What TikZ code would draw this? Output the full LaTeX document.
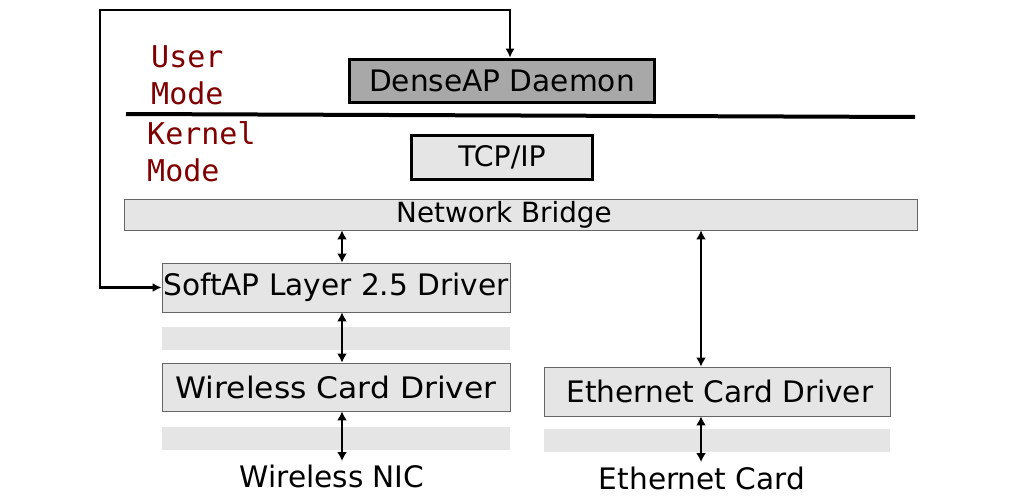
\documentclass[tikz,border=0pt]{standalone}
\usepackage{fontspec}
\setmainfont{DejaVu Sans}
\newfontfamily\labelfont{DejaVu Sans Mono}
\usetikzlibrary{arrows.meta}
\definecolor{boxgray}{gray}{0.90}
\definecolor{darkgray}{gray}{0.66}
\definecolor{modered}{HTML}{7F0000}
\begin{document}
\begin{tikzpicture}[x=1pt,y=-1pt,
  layerbox/.style={draw=black!60, line width=0.8pt, fill=boxgray, inner sep=0pt, font=\fontsize{29.6}{32}\selectfont},
  thickbox/.style={draw=black, line width=3.5pt, inner sep=0pt, font=\fontsize{29.6}{32}\selectfont},
  band/.style={fill=boxgray, draw=none, inner sep=0pt, minimum height=23pt},
  modelabel/.style={text=modered, font=\labelfont\fontsize{30}{32}\selectfont, anchor=west, inner sep=0pt},
  plain/.style={font=\fontsize{29.6}{32}\selectfont, inner sep=0pt},
  conn/.style={line width=2.5pt, {Latex[length=9pt,width=10pt]}-{Latex[length=9pt,width=10pt]}},
  feed/.style={line width=2.5pt, {Latex[length=9pt,width=9pt]}-{Latex[length=9pt,width=9pt]}}
]
\useasboundingbox (0,0) rectangle (1024,500);
% boxes
\node[thickbox, fill=darkgray, minimum width=305pt, minimum height=43pt] (dense) at (502,81) {DenseAP Daemon};
\node[thickbox, fill=boxgray, minimum width=181pt, minimum height=44pt, font=\fontsize{28.3}{30}\selectfont] (tcp) at (502,157.5) {TCP/IP};
\node[layerbox, minimum width=793pt, minimum height=31pt, font=\fontsize{27.8}{30}\selectfont] (nb) at (520.5,214.5) {\hspace*{-33pt}Network Bridge};
\node[layerbox, minimum width=348pt, minimum height=49pt] (sap) at (336,287.5) {SoftAP Layer 2.5 Driver};
\node[band, minimum width=348pt] (band1) at (336,338.5) {};
\node[layerbox, minimum width=348pt, minimum height=48pt] (wcd) at (336,387) {\scalebox{1.06}[1]{Wireless Card Driver}};
\node[band, minimum width=348pt] (band2) at (336,438.5) {};
\node[layerbox, minimum width=346pt, minimum height=49pt] (ecd) at (717,391.5) {\hspace*{6pt}Ethernet Card Driver};
\node[band, minimum width=346pt] (band3) at (717,440.5) {};
\node[plain] (wnic) at (332,476) {Wireless NIC};
\node[plain] (ecard) at (702,478) {Ethernet Card};
% mode labels
\node[modelabel] (user) at (151,57) {User};
\node[modelabel] (umode) at (151,93) {Mode};
\node[modelabel] (kernel) at (147,133) {Kernel};
\node[modelabel] (kmode) at (147,170) {Mode};
% divider
\coordinate (divl) at (126,114);
\coordinate (divr) at (915,117);
\draw[line width=4pt] (divl) -- (divr);
% feedback loop
\coordinate (fbl) at (100,10);
\coordinate (fbr) at (510,10);
\draw[feed] (sap.west) -| (fbl) -- (fbr) -- (dense.north -| fbr);
% vertical connectors
\coordinate (wx) at (342,0);
\coordinate (ex) at (701,0);
\coordinate (wend) at (342,461);
\coordinate (eend) at (701,462);
\draw[conn] (nb.south -| wx) -- (sap.north -| wx);
\draw[conn] (sap.south -| wx) -- (wcd.north -| wx);
\draw[conn] (wcd.south -| wx) -- (wend);
\draw[conn] (nb.south -| ex) -- (ecd.north -| ex);
\draw[conn] (ecd.south -| ex) -- (eend);
\end{tikzpicture}
\end{document}
